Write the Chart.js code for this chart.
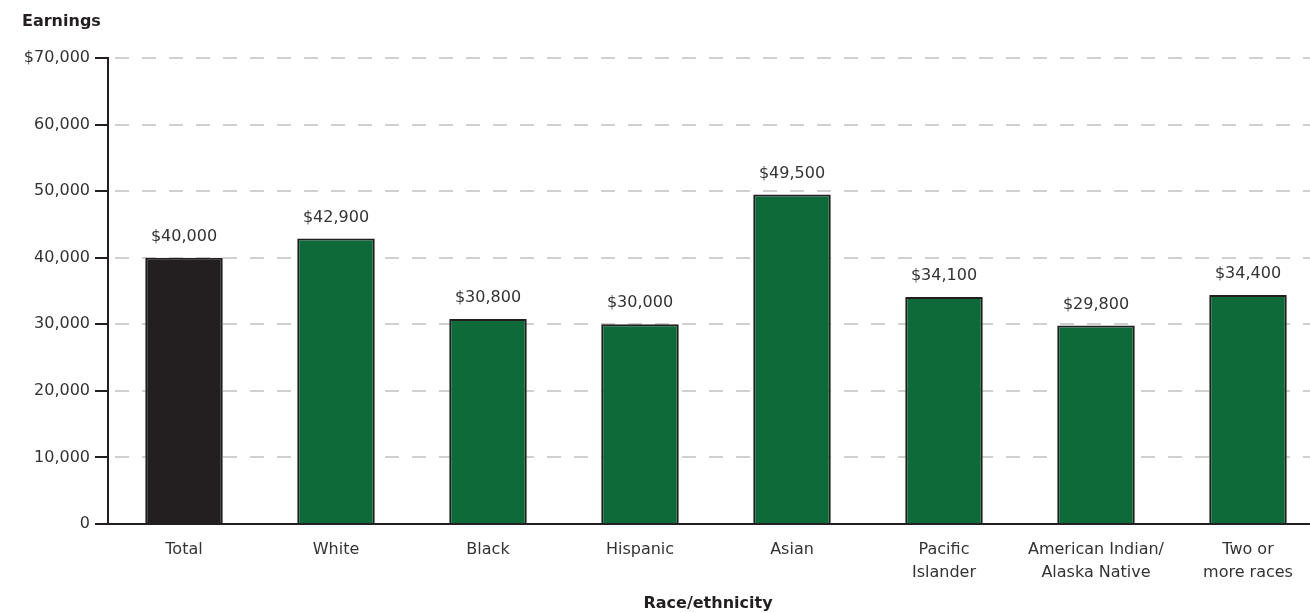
<!DOCTYPE html>
<html lang="en">
<head>
  <meta charset="UTF-8" />
  <title>Earnings by race/ethnicity</title>
  <script src="https://cdn.jsdelivr.net/npm/chart.js"></script>
  <style>
    html, body {
      margin: 0;
      padding: 0;
      background: #fff;
      overflow: hidden;
    }
    .wrap {
      width: 1330px;
      height: 613px;
    }
  </style>
</head>
<body>
  <div class="wrap">
    <canvas id="earningsChart" width="1330" height="613"></canvas>
  </div>

  <script>
    const categories = [
      'Total', 'White', 'Black', 'Hispanic', 'Asian',
      ['Pacific', 'Islander'], ['American Indian/', 'Alaska Native'], ['Two or', 'more races']
    ];
    const earnings = [40000, 42900, 30800, 30000, 49500, 34100, 29800, 34400];
    const barColors = ['#231f20', '#0f6a3a', '#0f6a3a', '#0f6a3a', '#0f6a3a', '#0f6a3a', '#0f6a3a', '#0f6a3a'];
    const yTicks = [0, 10000, 20000, 30000, 40000, 50000, 60000, 70000];
    const yTitle = 'Earnings';
    const xTitle = 'Race/ethnicity';

    const FONT = "'DejaVu Sans', sans-serif";
    const TEXT = '#333333';

    const fmt = v => v.toLocaleString('en-US');

    // value labels above bars + the two axis titles
    const extras = {
      id: 'extras',
      afterDatasetsDraw(chart) {
        const ctx = chart.ctx;
        const meta = chart.getDatasetMeta(0);
        ctx.save();
        ctx.font = '16px ' + FONT;
        ctx.fillStyle = TEXT;
        ctx.textAlign = 'center';
        ctx.textBaseline = 'middle';
        meta.data.forEach((bar, i) => {
          ctx.fillText('$' + fmt(earnings[i]), bar.x, bar.y - 21);
        });
        ctx.font = 'bold 16px ' + FONT;
        ctx.fillStyle = '#231f20';
        ctx.textAlign = 'left';
        ctx.fillText(yTitle, 22, 22);
        ctx.textAlign = 'center';
        ctx.fillText(xTitle, 708, 604);
        ctx.restore();
      }
    };

    new Chart(document.getElementById('earningsChart'), {
      type: 'bar',
      data: {
        labels: categories,
        datasets: [{
          data: earnings,
          backgroundColor: barColors,
          borderColor: '#231f20',
          borderWidth: 2,
          barPercentage: 0.51,
          categoryPercentage: 1
        }]
      },
      options: {
        responsive: false,
        animation: false,
        layout: { padding: { top: 58, left: 0, right: 6, bottom: 0 } },
        plugins: {
          legend: { display: false },
          tooltip: { enabled: false }
        },
        scales: {
          x: {
            grid: { display: false },
            border: { display: true, color: '#231f20', width: 2 },
            ticks: {
              color: TEXT,
              font: { family: FONT, size: 16, lineHeight: 1.4 },
              padding: 7,
              maxRotation: 0,
              autoSkip: false
            },
            afterFit(scale) { scale.height = 89; }
          },
          y: {
            min: 0,
            max: 70000,
            afterBuildTicks(scale) { scale.ticks = yTicks.map(v => ({ value: v })); },
            grid: {
              color: '#d0d0d0',
              lineWidth: 2,
              tickColor: '#231f20',
              tickLength: 13,
              tickWidth: 2
            },
            border: { display: true, color: '#231f20', width: 2, dash: [14, 13], dashOffset: -6 },
            ticks: {
              color: TEXT,
              font: { family: FONT, size: 16 },
              padding: 5,
              callback: v => (v === 70000 ? '$' : '') + fmt(v)
            },
            afterFit(scale) { scale.width = 108; }
          }
        }
      },
      plugins: [extras]
    });
  </script>
</body>
</html>
